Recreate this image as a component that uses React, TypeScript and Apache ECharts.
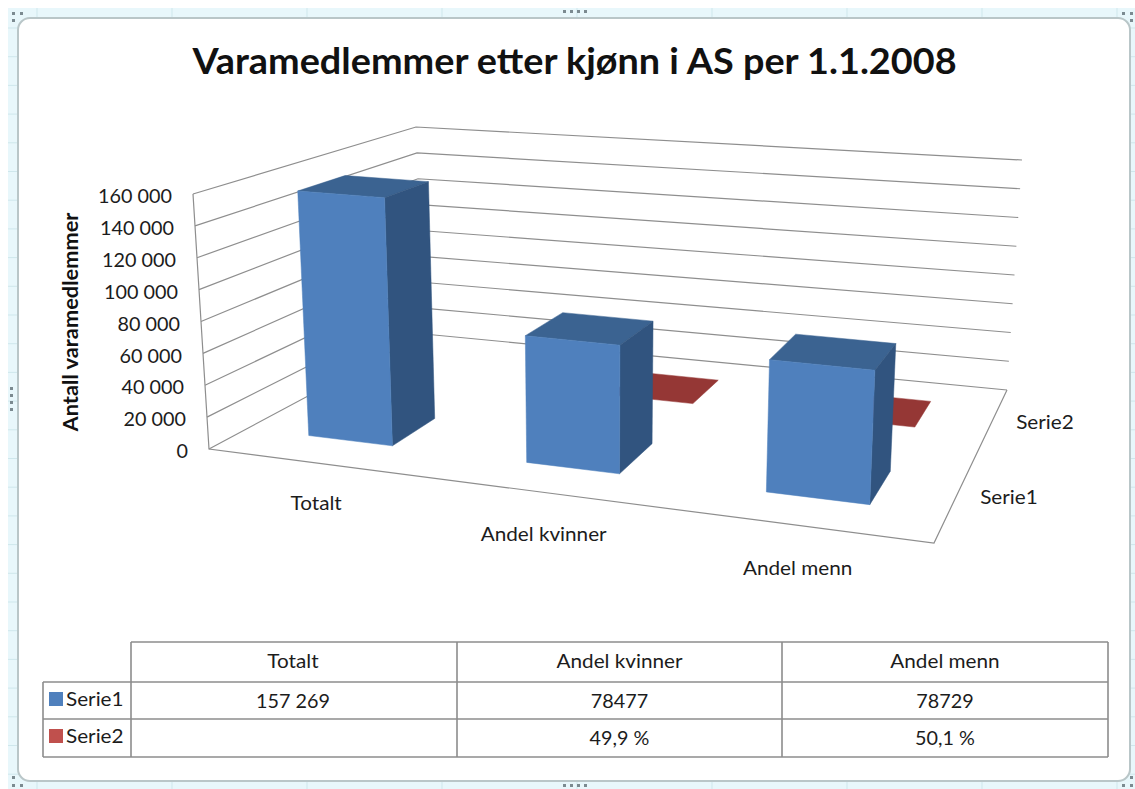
import React, { useEffect, useRef } from "react";
import * as echarts from "echarts";

const title = "Varamedlemmer etter kjønn i AS per 1.1.2008";
const yTitle = "Antall varamedlemmer";
const categories = ["Totalt", "Andel kvinner", "Andel menn"];
const seriesNames = ["Serie1", "Serie2"];
const serie1 = [157269, 78477, 78729];
const serie2: (number | null)[] = [null, 0.499, 0.501];
const serie1Labels = ["157 269", "78477", "78729"];
const serie2Labels = ["", "49,9 %", "50,1 %"];
const yTicks = [0, 20000, 40000, 60000, 80000, 100000, 120000, 140000, 160000];

const FONT = "Lato, Carlito, Calibri, sans-serif";
const TXT = "#1c1c1c";
const LINE = "#8e8e8e";
const BLUE = { front: "#4f80bd", side: "#31547f", top: "#3b6391" };
const RED = { top: "#953735", swatch: "#c0504d" };
const FS = 18.5;
const WORD_SCALE = 1.12;
const NUM_SCALE = 1.07;

// Scale rectangle of the (invisible) cartesian grid: the axes' fractions feed the 3D projection.
const GRID = { left: 100, top: 100, width: 300, height: 300 };

type P = [number, number];
function quad(p0: P, p1: P, p2: P, p3: P) {
  const dx1 = p1[0] - p2[0], dx2 = p3[0] - p2[0], sx = p0[0] - p1[0] + p2[0] - p3[0];
  const dy1 = p1[1] - p2[1], dy2 = p3[1] - p2[1], sy = p0[1] - p1[1] + p2[1] - p3[1];
  const den = dx1 * dy2 - dx2 * dy1;
  const g = (sx * dy2 - dx2 * sy) / den;
  const h = (dx1 * sy - sx * dy1) / den;
  const a = p1[0] - p0[0] + g * p1[0], b = p3[0] - p0[0] + h * p3[0], c = p0[0];
  const d = p1[1] - p0[1] + g * p1[1], e = p3[1] - p0[1] + h * p3[1], f = p0[1];
  return (s: number, t: number): P => {
    const w = g * s + h * t + 1;
    return [(a * s + b * t + c) / w, (d * s + e * t + f) / w];
  };
}
// floor and ceiling of the 3D box: front-left, front-right, back-right, back-left
const floor = quad([209, 449], [934, 543], [1007, 390], [424, 334]);
const ceiling = quad([193, 194], [944, 271], [1022, 160], [416, 127]);

function fractions(api: any, cat: number, value: number) {
  const x0 = api.coord([0, 0]);
  const x1 = api.coord([3, 160000]);
  const c = api.coord([cat, value]);
  return [(c[0] - x0[0]) / (x1[0] - x0[0]), (c[1] - x0[1]) / (x1[1] - x0[1])];
}
// used for the walls: exact at the corners of the box
function wallProjector(api: any) {
  return (cat: number, depth: number, value: number): number[] => {
    const [s, z] = fractions(api, cat, value);
    const a = floor(s, depth / 2);
    const b = ceiling(s, depth / 2);
    return [a[0] + (b[0] - a[0]) * z, a[1] + (b[1] - a[1]) * z];
  };
}
// used for the bars: verticals converge towards a vanishing point below the chart
function barProjector(api: any) {
  return (cat: number, depth: number, value: number): number[] => {
    const [s, z] = fractions(api, cat, value);
    const f = floor(s, depth / 2);
    const dx = (f[0] - 600) * 0.0385;
    const h = 72.4 - 0.007 * f[0] + 0.41 * f[1];
    return [f[0] + dx * z, f[1] - h * z];
  };
}

const poly = (points: number[][], fill: string) => ({ type: "polygon", shape: { points }, style: { fill, stroke: fill, lineWidth: 0.5 } });
const line = (points: number[][]) => ({ type: "polyline", shape: { points }, style: { fill: "none", stroke: LINE, lineWidth: 1.2 } });

const GAP = 0.3;
const FRONT_NUDGE = 0.01;

function renderWall(_: any, api: any) {
  const p = wallProjector(api);
  const v = api.value(1);
  return line([p(0, 0, v), p(0, 2, v), p(3, 2, v)]);
}
function renderFloor(_: any, api: any) {
  const p = wallProjector(api);
  return {
    type: "group",
    children: [line([p(0, 0, 160000), p(0, 0, 0), p(3, 0, 0), p(3, 2, 0)])],
  };
}
function renderBar(depthCell: number, colors: any) {
  return (_: any, api: any) => {
    const raw = api.value(1);
    if (raw === null || raw === undefined || isNaN(raw)) return null;
    const p = barProjector(api);
    const i = api.value(0);
    const nudge = colors.front && i > 0 ? FRONT_NUDGE : 0;
    const x0 = i + GAP + nudge, x1 = i + 1 - GAP + nudge;
    const d0 = depthCell + GAP, d1 = depthCell + 1 - GAP;
    const children: any[] = [];
    children.push(poly([p(x0, d0, raw), p(x1, d0, raw), p(x1, d1, raw), p(x0, d1, raw)], colors.top));
    if (colors.front) {
      children.push(poly([p(x1, d0, 0), p(x1, d1, 0), p(x1, d1, raw), p(x1, d0, raw)], colors.side));
      children.push(poly([p(x0, d0, 0), p(x1, d0, 0), p(x1, d0, raw), p(x0, d0, raw)], colors.front));
    }
    return { type: "group", children };
  };
}
const label = (text: string, x: number, y: number, align: string, scaleX: number) => ({
  type: "text", x, y, scaleX,
  style: { text, x: 0, y: 0, align, verticalAlign: "middle", fill: TXT, fontFamily: FONT, fontSize: FS },
});
function renderYLabel(_: any, api: any) {
  const v = api.value(1);
  const pt = wallProjector(api)(0, 0, v);
  return label(String(v).replace(/\B(?=(\d{3})+$)/g, " "), pt[0] - 21, pt[1] + 2, "right", NUM_SCALE);
}
function renderCatLabel(_: any, api: any) {
  const i = api.value(0);
  const pt = wallProjector(api)(i + 0.5, 0, 0);
  return label(categories[i], pt[0] + 2, pt[1] + 40 + i * 1.5, "center", WORD_SCALE);
}
function renderSeriesLabel(_: any, api: any) {
  const i = api.value(0);
  const pt = wallProjector(api)(3, i + 0.5, 0);
  return label(seriesNames[i], pt[0] + 24, pt[1] + 0.5, "left", WORD_SCALE);
}

const T = { x0: 43, cols: [131, 457, 782, 1108], rows: [642, 682, 719, 757] };

function chromeElements() {
  const out: any[] = [];
  const gridLine = "#cfe7ec";
  out.push({ type: "rect", z: -5, shape: { x: 8, y: 8, width: 1127, height: 781 }, style: { fill: "#e8f7fb" } });
  for (let x = 37; x < 1135; x += 135) out.push({ type: "line", z: -5, shape: { x1: x, y1: 8, x2: x, y2: 789 }, style: { stroke: gridLine, lineWidth: 1 } });
  for (let y = 28; y < 789; y += 28.7) out.push({ type: "line", z: -5, shape: { x1: 8, y1: y, x2: 1135, y2: y }, style: { stroke: gridLine, lineWidth: 1 } });
  out.push({ type: "rect", z: -4, shape: { x: 18, y: 18, width: 1112, height: 763, r: 12 }, style: { fill: "#ffffff", stroke: "#b9c6c8", lineWidth: 2 } });
  const dots = (x: number, y: number, dx: number, dy: number, n: number) => {
    for (let i = 0; i < n; i++) out.push({ type: "rect", z: -3, shape: { x: x + dx * i, y: y + dy * i, width: 3, height: 3 }, style: { fill: "#7b8a90" } });
  };
  dots(563, 10, 7, 0, 4);
  dots(563, 784, 7, 0, 4);
  dots(10, 387, 0, 7, 4);
  dots(12, 12, 8, 0, 2); dots(12, 19, 0, 0, 1);
  dots(12, 784, 8, 0, 2); dots(12, 776, 0, 0, 1);
  dots(1122, 784, 8, 0, 2); dots(1130, 776, 0, 0, 1);
  dots(1122, 12, 8, 0, 2); dots(1130, 19, 0, 0, 1);
  return out;
}

function tableElements() {
  const out: any[] = [];
  const st = { stroke: "#8c8c8c", lineWidth: 1.6 };
  const hl = (x1: number, x2: number, y: number) => out.push({ type: "line", shape: { x1, y1: y, x2, y2: y }, style: st });
  const vl = (x: number, y1: number, y2: number) => out.push({ type: "line", shape: { x1: x, y1, x2: x, y2 }, style: st });
  const { cols, rows } = T;
  hl(cols[0], cols[3], rows[0]);
  hl(T.x0, cols[3], rows[1]);
  hl(T.x0, cols[3], rows[2]);
  hl(T.x0, cols[3], rows[3]);
  vl(T.x0, rows[1], rows[3]);
  cols.forEach((c) => vl(c, rows[0], rows[3]));
  const center = (i: number) => (cols[i] + cols[i + 1]) / 2 - (i === 0 ? 1 : 0);
  categories.forEach((c, i) => out.push(label(c, center(i), 660.5, "center", WORD_SCALE)));
  serie1Labels.forEach((c, i) => out.push(label(c, center(i), 701, "center", NUM_SCALE)));
  serie2Labels.forEach((c, i) => { if (c) out.push(label(c, center(i), 738, "center", NUM_SCALE)); });
  [BLUE.front, RED.swatch].forEach((fill, i) => {
    out.push({ type: "rect", shape: { x: 49, y: i === 0 ? 692 : 729, width: 14, height: 14 }, style: { fill } });
    out.push(label(seriesNames[i], 66, i === 0 ? 698.5 : 735.5, "left", WORD_SCALE));
  });
  return out;
}

export default function App() {
  const ref = useRef<HTMLDivElement>(null);
  useEffect(() => {
    document.body.style.margin = "0";
    const chart = echarts.init(ref.current!, undefined, { renderer: "svg" });
    const cs = (data: any[], renderItem: any, z: number) => ({
      type: "custom", coordinateSystem: "cartesian2d", data, renderItem, z, clip: false, silent: true,
      encode: { x: 0, y: 1 },
    });
    chart.setOption({
      animation: false,
      backgroundColor: "#ffffff",
      grid: { ...GRID, show: false },
      xAxis: { type: "value", min: 0, max: 3, interval: 1, show: false },
      yAxis: { type: "value", min: 0, max: 160000, interval: 20000, show: false },
      graphic: {
        elements: [
          ...chromeElements(),
          ...tableElements(),
          {
            type: "text", x: 574.5, y: 60, scaleX: 1.05,
            style: { text: title, x: 0, y: 0, align: "center", verticalAlign: "middle", fill: "#111111", fontFamily: FONT, fontSize: 36, fontWeight: "bold" },
          },
          {
            type: "text", x: 70, y: 322, rotation: Math.PI / 2, scaleX: 1.09,
            style: { text: yTitle, x: 0, y: 0, align: "center", verticalAlign: "middle", fill: "#111111", fontFamily: FONT, fontSize: 20, fontWeight: "bold" },
          },
        ],
      },
      series: [
        cs(yTicks.map((v) => [0, v]), renderWall, 2),
        cs([[0, 0]], renderFloor, 3),
        cs(serie2.map((v, i) => [i, v]), renderBar(1, { top: RED.top }), 4),
        cs(serie1.map((v, i) => [i, v]), renderBar(0, BLUE), 5),
        cs(yTicks.map((v) => [0, v]), renderYLabel, 6),
        cs(categories.map((_, i) => [i, 0]), renderCatLabel, 6),
        cs(seriesNames.map((_, i) => [i, 0]), renderSeriesLabel, 6),
      ],
    });
    return () => chart.dispose();
  }, []);
  return <div ref={ref} style={{ width: 1135, height: 789 }} />;
}
